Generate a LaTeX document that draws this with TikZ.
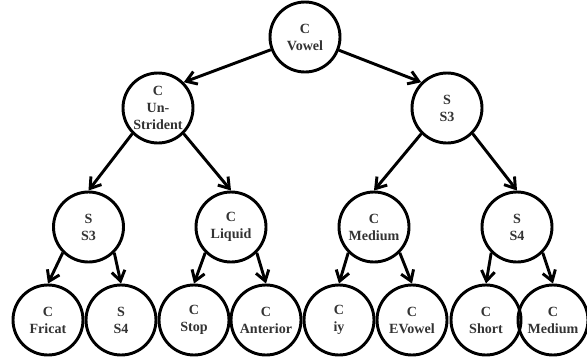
\documentclass[tikz,border=0pt]{standalone}
\usepackage{fontspec}
\setmainfont{Liberation Serif}
\usetikzlibrary{arrows.meta}

\begin{document}
\begin{tikzpicture}[x=0.03cm, y=-0.03cm,
  {every node/.append style}={circle, draw=black, line width=2.5pt, minimum size=2.1cm, inner sep=0pt,
    align=center, text=black!80, font=\fontsize{12}{14.5}\selectfont\bfseries},
  edge/.style={-{Straight Barb[length=3mm, width=4mm]}, line width=2.5pt, draw=black}]

\useasboundingbox (0, 0) rectangle (587, 356);

% top
\node (vowel) at (305, 37) {C\\Vowel};

% level 1
\node (unstrident) at (158, 108) {C\\Un-\\Strident};
\node (sthree) at (447, 108) {S\\S3};

% level 2
\node (sthreeb) at (88.5, 227) {S\\S3};
\node (liquid) at (231, 227) {C\\Liquid};
\node (medium) at (374, 227) {C\\Medium};
\node (sfour) at (517, 227) {S\\S4};

% leaves
\node (fricat) at (48, 320) {C\\Fricat};
\node (sfourb) at (121, 320) {S\\S4};
\node (stop) at (194, 320) {C\\Stop};
\node (anterior) at (266, 320) {C\\Anterior};
\node (iy) at (339, 320) {C\\iy};
\node (evowel) at (412, 320) {C\\EVowel};
\node (short) at (486, 320) {C\\Short};
\node (mediumb) at (553, 320) {C\\Medium};


\draw [edge] (vowel) to (unstrident.north east);
\draw [edge] (vowel) to (sthree.north west);

\draw [edge] (unstrident.south west) to (sthreeb.north);
\draw [edge] (unstrident.south east) to (liquid.north);
\draw [edge] (sthree.south west) to (medium.north);
\draw [edge] (sthree.south east) to (sfour.north);

\draw [edge] (sthreeb.south west) to (fricat.north);
\draw [edge] (sthreeb.south east) to (sfourb.north);
\draw [edge] (liquid.south west) to (stop.north);
\draw [edge] (liquid.south east) to (anterior.north);
\draw [edge] (medium.south west) to (iy.north);
\draw [edge] (medium.south east) to (evowel.north);
\draw [edge] (sfour.south west) to (short.north);
\draw [edge] (sfour.south east) to (mediumb.north);

\end{tikzpicture}
\end{document}
